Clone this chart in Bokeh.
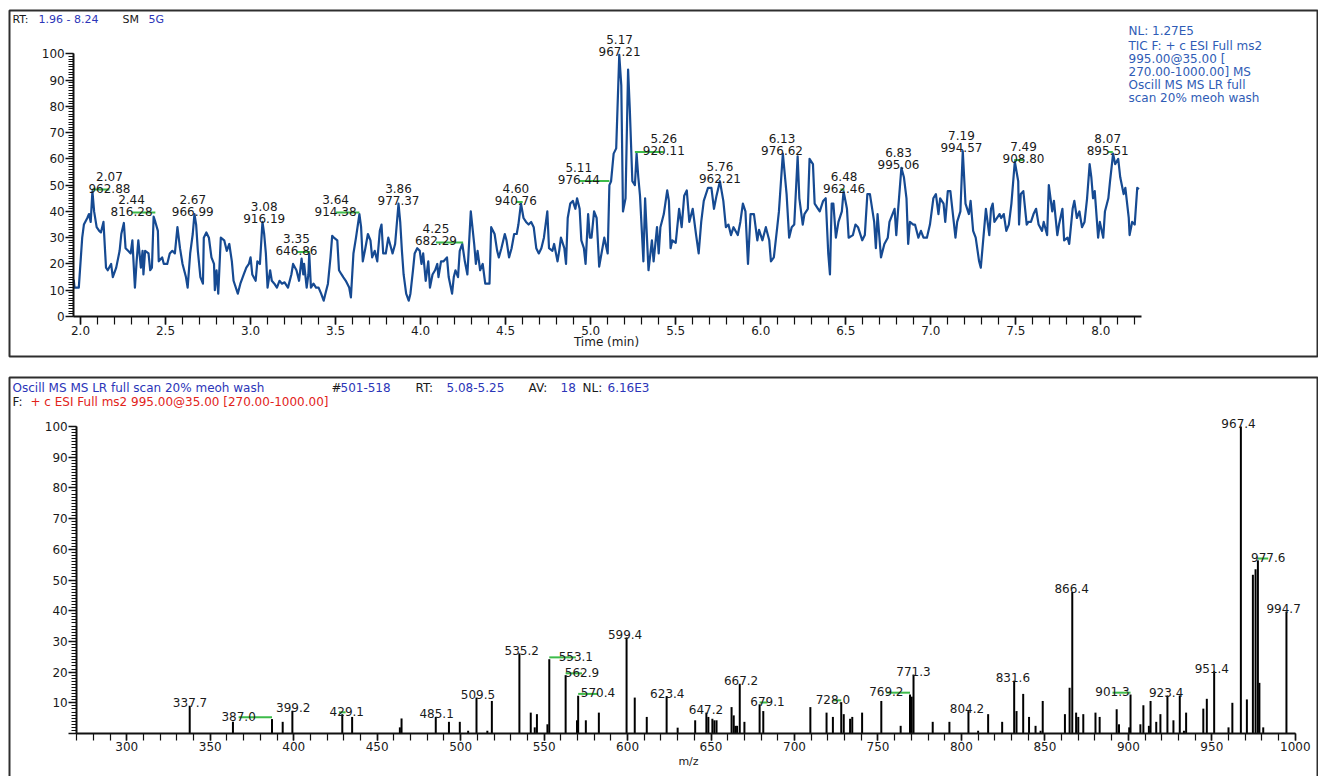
from bokeh.plotting import figure
from bokeh.models import (ColumnDataSource, Label, Range1d, SingleIntervalTicker,
                          PrintfTickFormatter, BoxAnnotation)
from bokeh.layouts import column
from bokeh.embed import file_html
from bokeh.resources import INLINE
from bokeh.core.properties import value

FONT = "DejaVu Sans"
TRACE = "#164a92"
GREEN = "#3dbb4a"
BLUE_HDR = "#2b35b8"
BLUE_INFO = "#2f5cb6"
RED = "#e2231a"
INK = "#1a1a1a"
BOX_LINE = "#2e2e2e"

# ---------------- TIC chromatogram: (retention time [min], relative abundance) ----------------
tic_seg_a = [(1.960, 14), (1.965, 11), (1.990, 11), (2.010, 30), (2.020, 35), (2.040, 37.5), (2.050, 39),
             (2.060, 36), (2.070, 47.7), (2.080, 40), (2.095, 34), (2.110, 32.6), (2.120, 32), (2.135, 36),
             (2.150, 18.6), (2.160, 17.6), (2.180, 20), (2.190, 15), (2.210, 18.6), (2.230, 25), (2.240, 31.4),
             (2.255, 35.6), (2.265, 26), (2.280, 25), (2.295, 24), (2.305, 29), (2.320, 11), (2.330, 21),
             (2.340, 29), (2.355, 18.6), (2.365, 25), (2.370, 16), (2.380, 25), (2.400, 24), (2.410, 17.6),
             (2.420, 18.6), (2.430, 38), (2.440, 36), (2.455, 32.6), (2.460, 21), (2.480, 22.5), (2.490, 20)]
tic_seg_b = [(2.510, 20), (2.525, 24), (2.540, 25), (2.555, 24), (2.570, 34), (2.585, 26), (2.600, 20),
             (2.620, 15), (2.630, 11), (2.645, 24), (2.660, 31.4), (2.670, 39), (2.680, 35), (2.690, 25),
             (2.705, 15), (2.720, 12.5), (2.725, 30), (2.740, 32), (2.755, 30), (2.770, 22.5), (2.785, 20),
             (2.790, 10), (2.800, 17.6), (2.810, 8.7), (2.825, 30), (2.845, 29), (2.860, 25), (2.875, 27.6),
             (2.890, 21), (2.900, 13.6), (2.925, 8.7), (2.940, 12.5), (2.960, 16), (2.975, 18.6), (2.990, 20)]
tic_seg_c = [(3.000, 22.5), (3.010, 16), (3.030, 13.6), (3.040, 21), (3.055, 20), (3.070, 36), (3.080, 31.4),
             (3.090, 24), (3.100, 11), (3.115, 17.6), (3.125, 13.6), (3.140, 12.5), (3.155, 11), (3.170, 13.6),
             (3.185, 12.5), (3.200, 13), (3.220, 11), (3.240, 16), (3.250, 20), (3.270, 17.6), (3.285, 13.6),
             (3.300, 22), (3.310, 16), (3.315, 20), (3.330, 11), (3.340, 16), (3.345, 24), (3.355, 11),
             (3.370, 12.5), (3.385, 11), (3.400, 11), (3.415, 8.7), (3.430, 6), (3.440, 8.7), (3.455, 12.5),
             (3.470, 22.5), (3.480, 30.7), (3.490, 30)]
tic_seg_d = [(3.510, 29), (3.520, 17.6), (3.535, 16), (3.545, 15), (3.560, 13.6), (3.580, 11), (3.590, 7.3),
             (3.605, 24), (3.620, 30), (3.640, 39), (3.650, 34), (3.660, 21), (3.675, 26), (3.690, 31.4),
             (3.705, 29), (3.715, 22.5), (3.730, 25), (3.745, 21), (3.760, 32.6), (3.770, 35), (3.780, 24),
             (3.795, 24), (3.810, 30), (3.820, 27.6), (3.835, 24), (3.850, 27.6), (3.870, 43), (3.880, 36),
             (3.890, 25), (3.900, 16), (3.915, 8.7), (3.930, 6), (3.940, 8.7), (3.955, 17.6), (3.965, 24),
             (3.980, 26), (3.995, 25)]
tic_seg_e = [(4.005, 20), (4.015, 24), (4.030, 13.6), (4.045, 21), (4.055, 11), (4.070, 16), (4.085, 17.6),
             (4.098, 20), (4.105, 15), (4.120, 21), (4.135, 21), (4.155, 22.5), (4.165, 15), (4.185, 8.7),
             (4.195, 15), (4.205, 17.6), (4.220, 15), (4.230, 25), (4.245, 27.6), (4.260, 21), (4.275, 16),
             (4.295, 40), (4.315, 27.6), (4.325, 20), (4.335, 25), (4.350, 17.6), (4.365, 20), (4.380, 12.5),
             (4.395, 12.5), (4.405, 12.5), (4.415, 34), (4.435, 31.4), (4.450, 25), (4.460, 22.5), (4.475, 26),
             (4.495, 31.4)]
tic_seg_f = [(4.505, 29), (4.520, 22.5), (4.535, 26), (4.550, 31.4), (4.565, 31.4), (4.575, 35), (4.590, 43),
             (4.605, 37.5), (4.620, 36), (4.635, 35), (4.650, 36), (4.665, 34), (4.680, 26), (4.695, 24),
             (4.710, 26), (4.725, 30), (4.745, 40), (4.755, 26), (4.775, 25), (4.785, 27.6), (4.805, 21),
             (4.815, 25), (4.825, 30), (4.845, 26), (4.855, 20), (4.865, 37.5), (4.880, 43), (4.895, 44),
             (4.910, 41), (4.920, 45), (4.935, 41), (4.945, 29), (4.960, 26), (4.970, 20), (4.985, 39),
             (4.995, 30), (5.005, 30), (5.020, 40), (5.035, 37.5), (5.050, 19)]
tic_seg_g = [(5.080, 30), (5.100, 24), (5.110, 50), (5.120, 51.5), (5.135, 62), (5.150, 64), (5.168, 99.6),
             (5.180, 88), (5.190, 40), (5.205, 45), (5.220, 94), (5.230, 79), (5.245, 51.5), (5.260, 50),
             (5.270, 62), (5.280, 53), (5.290, 46), (5.310, 21), (5.320, 45), (5.340, 17.6), (5.360, 29),
             (5.370, 21), (5.390, 34), (5.400, 24), (5.410, 34), (5.430, 39), (5.450, 48), (5.460, 44),
             (5.470, 26), (5.480, 29), (5.500, 28)]
tic_seg_h = [(5.520, 41), (5.535, 34), (5.550, 46), (5.565, 48), (5.580, 36), (5.600, 41), (5.620, 31),
             (5.635, 24), (5.650, 36), (5.665, 44), (5.690, 49), (5.710, 49), (5.725, 41), (5.740, 46),
             (5.760, 51.5), (5.780, 44), (5.795, 34), (5.810, 35), (5.825, 31), (5.840, 34), (5.865, 31),
             (5.880, 36), (5.895, 43), (5.910, 40), (5.925, 20), (5.940, 39), (5.960, 39), (5.980, 29),
             (5.990, 33), (6.010, 29), (6.030, 34), (6.050, 29)]
tic_seg_i = [(6.060, 21), (6.077, 22.5), (6.097, 34), (6.107, 40), (6.130, 62), (6.152, 46.6), (6.167, 30),
             (6.182, 34), (6.197, 35), (6.217, 61), (6.227, 45), (6.247, 35), (6.257, 39), (6.277, 41),
             (6.287, 60), (6.307, 58), (6.317, 43), (6.337, 41), (6.347, 40), (6.367, 44), (6.382, 45),
             (6.397, 24), (6.407, 16), (6.417, 43), (6.427, 43), (6.442, 30), (6.457, 36), (6.477, 40),
             (6.487, 47.7), (6.507, 41), (6.517, 30), (6.542, 31), (6.557, 35), (6.572, 34), (6.597, 29)]
tic_seg_j = [(6.612, 31), (6.627, 46.6), (6.642, 46.6), (6.667, 36), (6.677, 26), (6.687, 39), (6.707, 22.5),
             (6.727, 27.6), (6.747, 30), (6.757, 36), (6.787, 41), (6.797, 31), (6.807, 40), (6.827, 56.6),
             (6.842, 53), (6.857, 45), (6.867, 27.6), (6.877, 36), (6.897, 35), (6.907, 35), (6.927, 30),
             (6.942, 32.6), (6.957, 30), (6.977, 30), (6.995, 35), (7.015, 45), (7.030, 46.6), (7.045, 39),
             (7.055, 45), (7.075, 43), (7.085, 36), (7.100, 47.7), (7.115, 47.7), (7.135, 36), (7.145, 30),
             (7.155, 36)]
tic_seg_k = [(7.174, 40), (7.188, 63), (7.204, 43), (7.224, 39), (7.234, 44), (7.249, 32.6), (7.264, 30),
             (7.284, 21), (7.294, 18.6), (7.304, 26), (7.324, 41), (7.344, 31), (7.354, 41), (7.364, 43),
             (7.374, 36), (7.404, 39), (7.414, 37.5), (7.429, 39), (7.444, 32.6), (7.459, 35), (7.474, 43),
             (7.494, 59), (7.514, 51.5), (7.519, 35), (7.529, 46.6), (7.544, 47.7), (7.564, 35), (7.574, 36),
             (7.589, 36), (7.604, 39), (7.619, 41), (7.634, 35), (7.654, 32.6), (7.664, 36), (7.684, 31),
             (7.694, 50)]
tic_seg_l = [(7.714, 40), (7.724, 44), (7.744, 31), (7.754, 35), (7.774, 41), (7.784, 29), (7.804, 30),
             (7.814, 27.6), (7.834, 41), (7.844, 44), (7.859, 37.5), (7.874, 40), (7.889, 34), (7.904, 36),
             (7.919, 45), (7.934, 58), (7.944, 53), (7.954, 45), (7.964, 47.7), (7.984, 30), (7.994, 36),
             (8.014, 30), (8.024, 40), (8.044, 45), (8.054, 51.5), (8.072, 62), (8.084, 58), (8.102, 60),
             (8.114, 53), (8.134, 46.6), (8.144, 49), (8.164, 37.5), (8.169, 31), (8.184, 36), (8.199, 35),
             (8.214, 49), (8.224, 48.5)]

# labelled chromatogram peaks
rt_peak = [2.07, 2.44, 2.67, 3.08, 3.35, 3.64, 3.86, 4.25, 4.60, 5.11, 5.17, 5.26, 5.76, 6.13, 6.48,
           6.83, 7.19, 7.49, 8.07]
rt_peak_level = [47.7, 39, 39, 36, 24, 39, 43, 27.6, 43, 51, 99.6, 62, 51.5, 62, 47.7, 56.6, 63, 59, 62]
rt_peak_base_mz = ["962.88", "816.28", "966.99", "916.19", "646.86", "914.38", "977.37", "682.29", "940.76",
                   "976.44", "967.21", "920.11", "962.21", "976.62", "962.46", "995.06", "994.57", "908.80",
                   "895.51"]
# layout: label centres and whether a green flag links the label to its peak
rt_label_x = [2.17, 2.30, 2.66, 3.08, 3.27, 3.50, 3.87, 4.09, 4.56, 4.93, 5.17, 5.43, 5.76, 6.125, 6.49,
              6.81, 7.18, 7.545, 8.04]
rt_flag = [True, True, False, False, True, True, False, True, True, True, False, True, False, False, True,
           False, False, True, True]

# ---------------- MS2 spectrum ----------------
mz_labeled = [337.7, 387.0, 399.2, 429.1, 485.1, 509.5, 535.2, 553.1, 562.9, 570.4, 599.4, 623.4, 647.2,
              667.2, 679.1, 728.0, 769.2, 771.3, 804.2, 831.6, 866.4, 901.3, 923.4, 951.4, 967.4, 977.6, 994.7]
int_labeled = [9.0, 4.7, 7.4, 6.3, 5.4, 11.7, 26.1, 24.2, 19.0, 12.3, 31.3, 12.2, 6.8, 16.2, 9.5, 10.2,
               12.7, 19.2, 7.3, 17.2, 46.1, 12.7, 12.4, 20.3, 100.0, 56.4, 39.7]
mz_other = [363.6, 393.4, 435.0, 463.6, 464.6, 493.0, 499.5, 504.5, 516.0, 518.7, 542.0, 544.4, 545.7, 552.0,
            569.7, 575.0, 582.8, 604.3, 611.5, 630.0, 640.5, 648.4, 650.8, 652.0, 653.3, 662.3, 663.6, 664.6,
            665.6, 670.0, 681.3, 709.5, 719.2, 723.0, 729.5, 733.3, 734.6, 740.5, 752.0, 763.6, 770.2, 782.8,
            792.8, 810.0, 816.0, 824.4, 833.0, 837.0, 840.5, 844.4, 847.4, 848.7, 862.0, 864.8, 868.7, 870.0,
            873.0, 880.3, 882.8, 893.0, 894.4, 900.5, 907.2, 909.0, 912.3, 913.3, 916.7, 919.2, 927.0, 930.8,
            933.3, 934.6, 944.9, 947.0, 960.0, 962.3, 971.0, 974.6, 976.2, 978.5, 980.8]
int_other = [3.8, 3.8, 5.4, 2.0, 4.9, 3.8, 3.8, 0.9, 0.9, 10.6, 6.8, 2.0, 6.3, 3.0,
             4.3, 4.3, 6.8, 11.7, 5.4, 1.9, 4.3, 5.4, 4.8, 4.3, 4.3, 8.6, 5.9, 2.5,
             2.5, 3.8, 7.3, 8.6, 6.8, 5.4, 6.3, 4.8, 5.4, 6.8, 10.6, 2.5, 12.0, 3.8,
             3.8, 0.9, 6.3, 3.8, 7.3, 12.9, 5.4, 2.5, 0.9, 10.6, 6.3, 14.9, 6.8, 5.4,
             6.3, 6.8, 5.4, 7.9, 3.0, 2.0, 3.0, 9.2, 2.5, 10.6, 3.8, 6.3, 4.3, 12.4,
             0.9, 6.8, 8.1, 11.3, 2.0, 10.0, 11.1, 51.7, 53.5, 16.5, 2.0]
# layout: label centres (m/z) and green flags
mz_label_x = [337.9, 367.0, 399.7, 431.8, 485.6, 510.4, 536.6, 569.0, 572.7, 582.3, 598.5, 623.8, 647.0,
              668.0, 683.8, 723.0, 755.0, 771.3, 803.3, 830.8, 866.0, 890.5, 922.6, 950.0, 966.0, 983.8, 993.0]
mz_flag = [False, True, False, True, False, False, False, True, True, True, False, False, False,
           False, True, True, True, False, False, False, False, True, False, False, False, True, False]

# ---------------- page geometry: each figure's frame fills its whole canvas ----------------
PAGE_W = 1318
H1, H2 = 366, 410        # top figure: page y 0..366, bottom figure: page y 366..776


def tx(px):              # page x -> retention time
    return 1.96 + (px - 73.2) / 170.06


def ty(py):              # page y -> relative abundance (top panel)
    return (316.0 - py) / 2.627


def bx(px):              # page x -> m/z
    return 270.0 + (px - 76.2) / 1.6693


def by(py):              # page y -> relative abundance (bottom panel)
    return (733.0 - py) / 3.07


def style_axes(p, xmaj_out, xmin_out):
    for ax in list(p.xaxis) + list(p.yaxis):
        ax.axis_line_width = 2
        ax.axis_line_color = "#111111"
        ax.major_tick_line_color = "#111111"
        ax.minor_tick_line_color = "#111111"
        ax.major_tick_line_width = 1.6
        ax.minor_tick_line_width = 1.2
        ax.major_tick_in = 0
        ax.minor_tick_in = 0
        ax.major_label_text_font = FONT
        ax.major_label_text_font_size = "12px"
        ax.major_label_text_color = INK
        ax.major_label_standoff = 1
    for ax in p.xaxis:
        ax.major_tick_out = xmaj_out
        ax.minor_tick_out = xmin_out
    for ax in p.yaxis:
        ax.major_tick_out = 8
        ax.minor_tick_out = 5


def add_label(p, x, y, text, color, size="12px", align="left"):
    p.add_layout(Label(x=x, y=y, text=text, text_color=color, text_font=FONT,
                       text_font_size=size, text_align=align, text_baseline="middle"))


def green_marks(peaks, label_x, levels, flags, min_half):
    x0, x1, y = [], [], []
    for pk, lx, lv, fl in zip(peaks, label_x, levels, flags):
        if not fl:
            continue
        a, b = sorted((pk, lx))
        if b - a < 2 * min_half:
            a, b = pk - min_half, pk + min_half
        x0.append(a)
        x1.append(b)
        y.append(lv + 0.6)
    return x0, x1, y


def base_figure(height, xr, yr):
    p = figure(width=PAGE_W, height=height, x_range=Range1d(*xr), y_range=Range1d(*yr),
               output_backend="svg", toolbar_location=None,
               min_border_left=0, min_border_right=0, min_border_top=0, min_border_bottom=0)
    p.outline_line_color = None
    p.grid.visible = False
    p.background_fill_color = "white"
    p.border_fill_color = "white"
    return p


def panel_box(left, right, top, bottom):
    return BoxAnnotation(left=left, right=right, top=top, bottom=bottom,
                         fill_color=None, fill_alpha=0, line_color=BOX_LINE, line_alpha=1.0,
                         line_width=2)


# ================= top: chromatogram =================
trace = (tic_seg_a + tic_seg_b + tic_seg_c + tic_seg_d + tic_seg_e + tic_seg_f + tic_seg_g +
         tic_seg_h + tic_seg_i + tic_seg_j + tic_seg_k + tic_seg_l)
rt_min = [t for t, _ in trace]
tic_rel = [v for _, v in trace]

p1 = base_figure(H1, (tx(0), tx(PAGE_W)), (ty(H1), ty(0)))
p1.add_layout(panel_box(tx(9), tx(1317), ty(10), ty(356)))

p1.line(rt_min, tic_rel, line_color=TRACE, line_width=2.2, line_join="round")

gx0, gx1, gy = green_marks(rt_peak, rt_label_x, rt_peak_level, rt_flag, 0.012)
p1.segment(x0=gx0, y0=gy, x1=gx1, y1=gy, line_color=GREEN, line_width=2)

lab1 = ColumnDataSource(dict(x=rt_label_x, y=rt_peak_level,
                             rt=[f"{v:.2f}" for v in rt_peak], mz=rt_peak_base_mz))
p1.text(x="x", y="y", text="mz", source=lab1, text_align="center", text_baseline="alphabetic",
        y_offset=-3, text_font=value(FONT), text_font_size="12px", text_color=INK)
p1.text(x="x", y="y", text="rt", source=lab1, text_align="center", text_baseline="alphabetic",
        y_offset=-15, text_font=value(FONT), text_font_size="12px", text_color=INK)

p1.xaxis.ticker = SingleIntervalTicker(interval=0.5, num_minor_ticks=5)
p1.xaxis.formatter = PrintfTickFormatter(format="%.1f")
p1.xaxis.bounds = (1.96, 8.24)
p1.xaxis.fixed_location = 0
p1.yaxis.ticker = SingleIntervalTicker(interval=10, num_minor_ticks=10)
p1.yaxis.bounds = (0, 100)
p1.yaxis.fixed_location = 1.96
style_axes(p1, 8, 8)

add_label(p1, tx(12), ty(19), "RT:", INK, "11px")
add_label(p1, tx(38), ty(19), "1.96 - 8.24", BLUE_HDR, "11px")
add_label(p1, tx(122), ty(19), "SM", INK, "11px")
add_label(p1, tx(148), ty(19), "5G", BLUE_HDR, "11px")
info_lines = ["NL: 1.27E5", "TIC F: + c ESI Full ms2", "995.00@35.00 [", "270.00-1000.00] MS",
              "Oscill MS MS LR full", "scan 20% meoh wash"]
for txt, py in zip(info_lines, [30, 45, 58, 71, 84, 97]):
    add_label(p1, tx(1128), ty(py), txt, BLUE_INFO)
add_label(p1, tx(606), ty(341), "Time (min)", INK, align="center")

# ================= bottom: spectrum =================
p2 = base_figure(H2, (bx(0), bx(PAGE_W)), (by(776), by(366)))
p2.add_layout(panel_box(bx(9), bx(1317), by(377), by(800)))

stick_mz = mz_other + mz_labeled
stick_int = int_other + int_labeled
p2.segment(x0=stick_mz, y0=[0] * len(stick_mz), x1=stick_mz, y1=stick_int,
           line_color="#000000", line_width=2)

bx0, bx1, byy = green_marks(mz_labeled, mz_label_x, int_labeled, mz_flag, 2.0)
p2.segment(x0=bx0, y0=byy, x1=bx1, y1=byy, line_color=GREEN, line_width=2)

lab2 = ColumnDataSource(dict(x=mz_label_x, y=int_labeled, t=[f"{v:.1f}" for v in mz_labeled]))
p2.text(x="x", y="y", text="t", source=lab2, text_align="center", text_baseline="alphabetic",
        y_offset=-3, text_font=value(FONT), text_font_size="12px", text_color=INK)

p2.xaxis.ticker = SingleIntervalTicker(interval=50, num_minor_ticks=5)
p2.xaxis.bounds = (270, 1000)
p2.xaxis.fixed_location = 0
p2.yaxis.ticker = SingleIntervalTicker(interval=10, num_minor_ticks=10)
p2.yaxis.bounds = (0, 100)
p2.yaxis.fixed_location = 270
p2.yaxis.major_label_overrides = {0: ""}
style_axes(p2, 7, 7)

add_label(p2, bx(12), by(387), "Oscill MS MS LR full scan 20% meoh wash", BLUE_HDR)
add_label(p2, bx(331), by(387), "#", INK)
add_label(p2, bx(340), by(387), "501-518", BLUE_HDR)
add_label(p2, bx(415), by(387), "RT:", INK)
add_label(p2, bx(446), by(387), "5.08-5.25", BLUE_HDR)
add_label(p2, bx(528), by(387), "AV:", INK)
add_label(p2, bx(560), by(387), "18", BLUE_HDR)
add_label(p2, bx(582), by(387), "NL:", INK)
add_label(p2, bx(607), by(387), "6.16E3", BLUE_HDR)
add_label(p2, bx(12), by(401), "F:", INK)
add_label(p2, bx(30), by(401), "+ c ESI Full ms2 995.00@35.00 [270.00-1000.00]", RED)
add_label(p2, bx(688), by(761), "m/z", INK, "11px", align="center")

layout = column(p1, p2, spacing=0)
open("out.html", "w").write(file_html(layout, INLINE, title="TIC and MS2 spectrum"))
